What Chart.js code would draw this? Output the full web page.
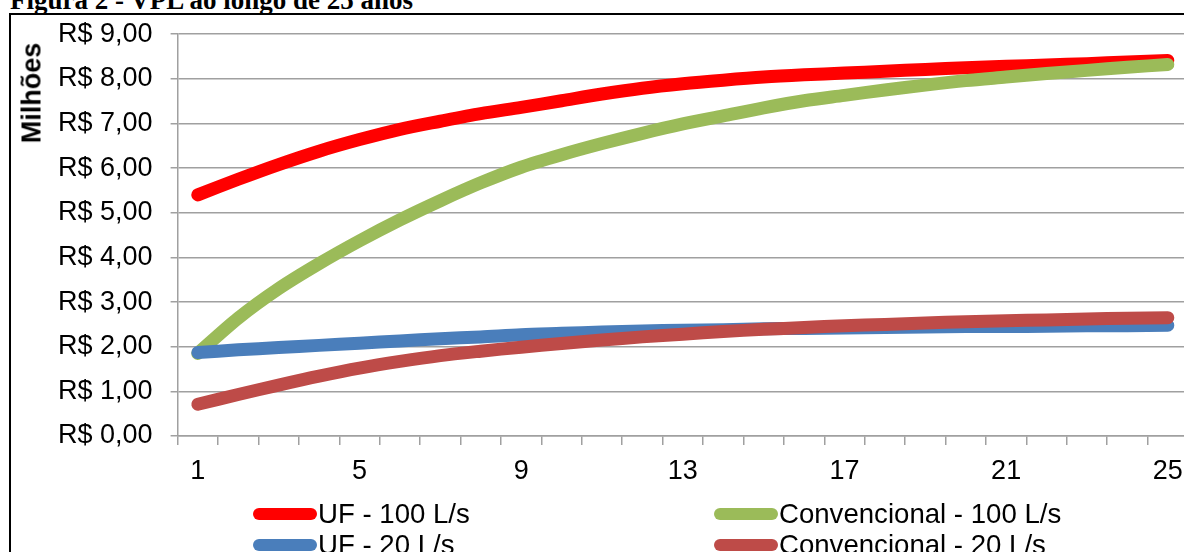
<!DOCTYPE html>
<html>
<head>
<meta charset="utf-8">
<script src="https://cdn.jsdelivr.net/npm/chart.js@4.4.1/dist/chart.umd.min.js"></script>
<style>
  html, body { margin: 0; padding: 0; width: 1184px; height: 552px; overflow: hidden; background: #fff; }
  #caption { position: absolute; left: 10px; top: -13px; font: bold 27px/27px "Liberation Serif", "Times New Roman", serif; white-space: nowrap; color: #000; }
  #frame { position: absolute; left: 9px; top: 13px; width: 1300px; height: 700px; border-left: 2px solid #000; border-top: 2px solid #000; }
  #wrap { position: absolute; left: 0; top: 0; width: 1200px; height: 552px; }
  #ytitle { position: absolute; left: 32px; top: 93px; transform: translate(-50%, -50%) rotate(-90deg); font: bold 27px/27px "Liberation Sans", Arial, sans-serif; white-space: nowrap; color: #000; }
  .leg { position: absolute; height: 30px; font: 27.6px/30px "Liberation Sans", Arial, sans-serif; white-space: nowrap; color: #000; }
  .leg .swatch { position: absolute; left: 0; top: 9px; width: 64px; height: 12px; border-radius: 6px; }
  .leg .txt { position: absolute; left: 65px; top: 0; }
</style>
</head>
<body>
<div id="caption">Figura 2 - VPL ao longo de 25 anos</div>
<div id="frame"></div>
<div id="wrap"><canvas id="chartVpl"></canvas></div>
<div id="ytitle">Milhões</div>
<div id="legend"></div>
<script>
// Anos (categorias do eixo X)
var anos = ['1', '2', '3', '4', '5', '6', '7', '8', '9', '10', '11', '12', '13',
            '14', '15', '16', '17', '18', '19', '20', '21', '22', '23', '24', '25'];

// VPL em milhões de R$
var uf100 = [5.40, 5.75, 6.08, 6.38, 6.64, 6.87, 7.05, 7.22, 7.36, 7.51, 7.66, 7.79, 7.89,
             7.97, 8.04, 8.09, 8.13, 8.17, 8.21, 8.25, 8.28, 8.31, 8.34, 8.38, 8.41];
var conv100 = [1.85, 2.64, 3.30, 3.86, 4.37, 4.84, 5.27, 5.67, 6.02, 6.30, 6.55, 6.78, 6.99,
               7.17, 7.35, 7.51, 7.63, 7.75, 7.86, 7.96, 8.04, 8.12, 8.19, 8.26, 8.32];
var uf20 = [1.87, 1.93, 1.98, 2.03, 2.08, 2.13, 2.18, 2.22, 2.27, 2.30, 2.33, 2.35, 2.37,
            2.38, 2.40, 2.41, 2.42, 2.43, 2.44, 2.45, 2.45, 2.46, 2.47, 2.47, 2.48];
var conv20 = [0.71, 0.93, 1.14, 1.34, 1.52, 1.67, 1.80, 1.90, 1.99, 2.07, 2.15, 2.22, 2.28,
              2.34, 2.39, 2.43, 2.47, 2.50, 2.53, 2.56, 2.58, 2.60, 2.62, 2.64, 2.65];

var seriesNames = ['UF - 100 L/s', 'Convencional - 100 L/s', 'UF - 20 L/s', 'Convencional - 20 L/s'];
var seriesColors = ['#FF0000', '#9BBB59', '#4A7EBB', '#BE4B48'];

var FONT = "'Liberation Sans', Arial, sans-serif";
var GRID = '#a0a0a0';

function line(label, data, color, order) {
  return {
    label: label,
    data: data,
    borderColor: color,
    backgroundColor: color,
    borderWidth: 13,
    borderCapStyle: 'round',
    borderJoinStyle: 'round',
    pointRadius: 0,
    pointHoverRadius: 0,
    tension: 0.3,
    fill: false,
    order: order
  };
}

new Chart(document.getElementById('chartVpl').getContext('2d'), {
  type: 'line',
  data: {
    labels: anos,
    datasets: [
      line(seriesNames[0], uf100, seriesColors[0], 4),
      line(seriesNames[1], conv100, seriesColors[1], 3),
      line(seriesNames[2], uf20, seriesColors[2], 2),
      line(seriesNames[3], conv20, seriesColors[3], 1)
    ]
  },
  options: {
    responsive: true,
    maintainAspectRatio: false,
    animation: false,
    layout: { padding: { left: 0, top: 30, right: 12, bottom: 0 } },
    plugins: {
      legend: { display: false },
      tooltip: { enabled: false }
    },
    scales: {
      x: {
        offset: true,
        grid: { offset: true, drawOnChartArea: false, tickLength: 9, color: GRID, lineWidth: 1.5 },
        border: { color: GRID, width: 1.5 },
        ticks: {
          autoSkip: false,
          maxRotation: 0,
          padding: 10,
          color: '#000',
          font: { family: FONT, size: 27 },
          callback: function(v, i) { return i % 4 === 0 ? this.getLabelForValue(v) : ''; }
        },
        afterFit: function(s) { s.height = 116; }
      },
      y: {
        min: 0,
        max: 9,
        grid: { tickLength: 7, color: GRID, lineWidth: 1.5 },
        border: { color: GRID, width: 1.5 },
        ticks: {
          stepSize: 1,
          padding: 18,
          color: '#000',
          font: { family: FONT, size: 27 },
          callback: function(v) { return 'R$ ' + v.toFixed(2).replace('.', ','); }
        },
        afterFit: function(s) { s.width = 177.6; }
      }
    }
  }
});

// Legenda em duas colunas, como no original
var legendSlots = [[253, 499], [714, 499], [253, 530], [714, 530]];
var legend = document.getElementById('legend');
seriesNames.forEach(function(name, i) {
  var item = document.createElement('div');
  item.className = 'leg';
  item.style.left = legendSlots[i][0] + 'px';
  item.style.top = legendSlots[i][1] + 'px';
  item.innerHTML = '<span class="swatch" style="background:' + seriesColors[i] + '"></span>'
    + '<span class="txt">' + name + '</span>';
  legend.appendChild(item);
});
</script>
</body>
</html>
